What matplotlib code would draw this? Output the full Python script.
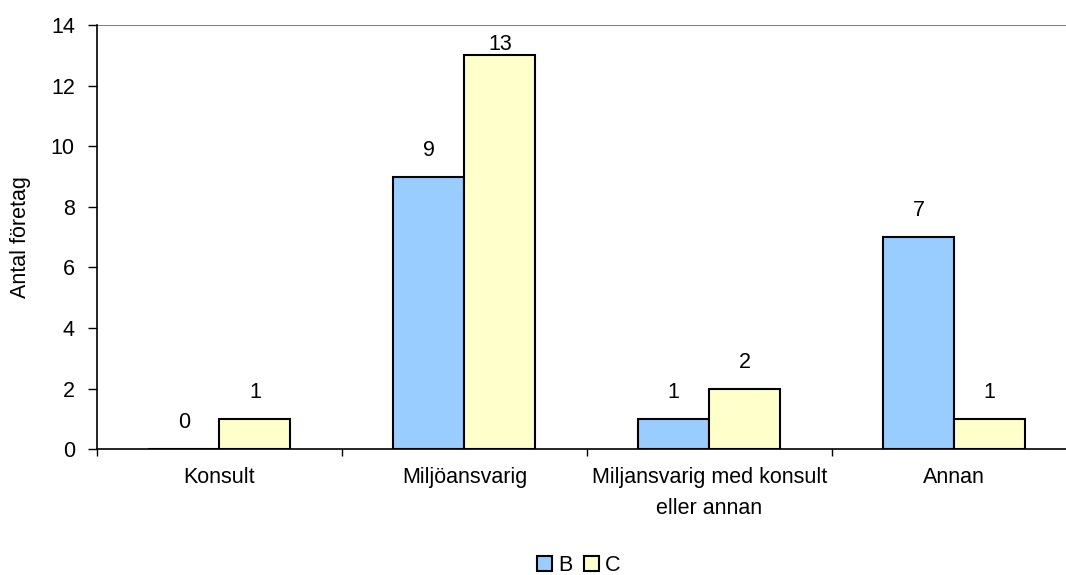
import numpy as np
from matplotlib import pyplot as plt

plt.rcParams['font.family'] = ['Liberation Sans', 'DejaVu Sans']

# Antal företag per kategori
kategorier = ["Konsult", "Miljöansvarig", "Miljansvarig med konsult\neller annan", "Annan"]
serie_b = [0, 9, 1, 7]
serie_c = [1, 13, 2, 1]

fs = 15.5
ymax = 14

fig = plt.figure(figsize=(10.66, 5.75), dpi=100)
ax = fig.add_axes([0.091, 0.219, 0.919, 0.7374])

x = np.arange(len(kategorier))
w = 0.29
bars_b = ax.bar(x - w/2, serie_b, w, color="#99CCFF", edgecolor="black", linewidth=1.5, label="B")
bars_c = ax.bar(x + w/2, serie_c, w, color="#FFFFCC", edgecolor="black", linewidth=1.5, label="C")

# Värden ovanför staplarna, trycks ner om de hamnar utanför diagrammet
for bars, vals in ((bars_b, serie_b), (bars_c, serie_c)):
    for b, v in zip(bars, vals):
        off = 15 if v < ymax - 2 else 4
        ax.annotate(str(v), (b.get_x() + b.get_width()/2, v), xytext=(0, off),
                    textcoords="offset points", ha="center", va="baseline", fontsize=fs)

ax.set_xlim(-0.5, len(kategorier) - 0.5)
ax.set_ylim(0, ymax)
ax.set_yticks(range(0, ymax + 1, 2))
ax.axhline(ymax, color="gray", linewidth=1.5)

ax.set_xticks(x)
ax.set_xticklabels(kategorier, fontsize=fs, linespacing=1.6)
ax.set_xticks(np.arange(-0.5, len(kategorier), 1), minor=True)
ax.tick_params(axis="x", which="major", length=0, pad=13)
ax.tick_params(axis="x", which="minor", length=5, width=1, direction="out")
ax.tick_params(axis="y", length=6.5, width=1, labelsize=fs, pad=9.5)
ax.set_ylabel("Antal företag", fontsize=fs)
ax.yaxis.set_label_coords(-0.067, 0.5)

for s in ("top", "right"):
    ax.spines[s].set_visible(False)
for s in ("left", "bottom"):
    ax.spines[s].set_linewidth(1.2)

fig.legend(loc="center", bbox_to_anchor=(0.543, 0.017), ncol=2, frameon=False,
           fontsize=fs, handlelength=0.7, handleheight=0.7, handletextpad=0.3,
           columnspacing=0.5)

fig.savefig("out.png", dpi=100)
